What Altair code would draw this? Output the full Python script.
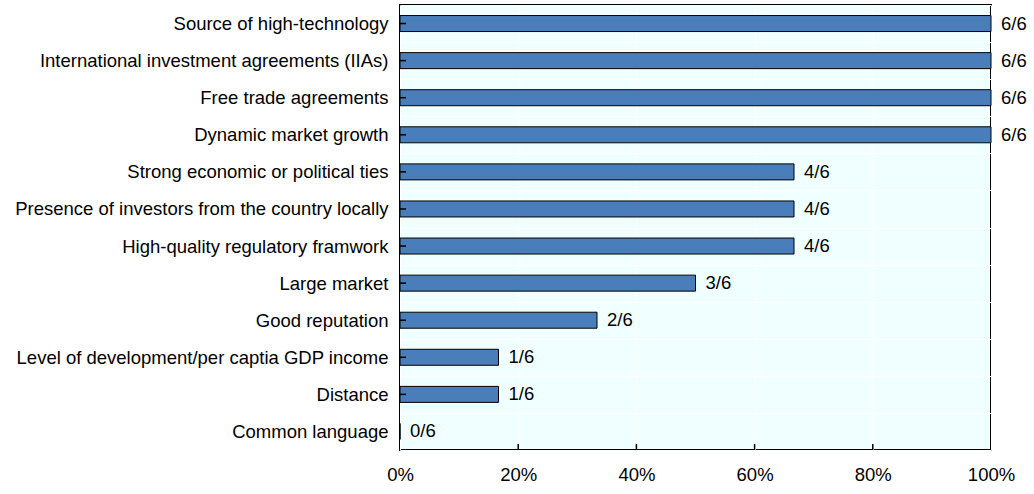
import altair as alt
import pandas as pd

categories = [
    "Source of high-technology",
    "International investment agreements (IIAs)",
    "Free trade agreements",
    "Dynamic market growth",
    "Strong economic or political ties",
    "Presence of investors from the country locally",
    "High-quality regulatory framwork",
    "Large market",
    "Good reputation",
    "Level of development/per captia GDP income",
    "Distance",
    "Common language",
]
counts = [6, 6, 6, 6, 4, 4, 4, 3, 2, 1, 1, 0]
total = 6
x_ticks = [0.2, 0.4, 0.6, 0.8]

df = pd.DataFrame({
    "category": categories,
    "pct": [c / total for c in counts],
    "label": [f"{c}/{total}" for c in counts],
    "idx": list(range(len(categories))),
})
tick_df = pd.DataFrame({"t": x_ticks})

W, H = 591, 445
step = H / len(categories)
FONT = "Liberation Sans"
FS = 18.5

yenc = alt.Y("category:N", sort=categories, title=None,
             scale=alt.Scale(paddingInner=0, paddingOuter=0),
             axis=alt.Axis(grid=True, gridColor="white", gridWidth=1, tickBand="extent",
                           ticks=False, domain=False, labelFont=FONT, labelFontSize=FS,
                           labelColor="#000000", labelPadding=12, labelLimit=600))
xenc = alt.X("pct:Q", title=None,
             scale=alt.Scale(domain=[0, 1], nice=False),
             axis=alt.Axis(values=[0, 0.2, 0.4, 0.6, 0.8, 1.0], format="%", grid=True,
                           gridColor="white", gridWidth=1, ticks=False, domain=False,
                           labelFlush=False, labelFont=FONT, labelFontSize=FS,
                           labelColor="#000000", labelPadding=15))

bars = alt.Chart(df).mark_bar(size=16, color="#4a7ebb", stroke="#000000", strokeWidth=1).encode(
    x=xenc, y=yenc)

texts = alt.Chart(df).mark_text(align="left", baseline="middle", dx=10, font=FONT,
                                fontSize=FS, color="#000000").encode(
    x="pct:Q", y=alt.Y("category:N", sort=categories), text="label:N")

yticks = alt.Chart(df).transform_filter("datum.idx > 0").mark_rule(
    color="#000000", strokeWidth=1.5).encode(
    y=alt.Y("category:N", sort=categories),
    x=alt.value(0), x2=alt.value(6), yOffset=alt.value(-step / 2))

xticks = alt.Chart(tick_df).mark_rule(color="#000000", strokeWidth=1.5).encode(
    x="t:Q", y=alt.value(H - 6), y2=alt.value(H))

chart = alt.layer(bars, texts, yticks, xticks).properties(
    width=W, height=H,
    autosize=alt.AutoSizeParams(type="none"),
    padding={"left": 400, "top": 5, "right": 43, "bottom": 44},
).configure_view(fill="#f0ffff", stroke="#000000", strokeWidth=2)

chart.save("out.html", embed_options={"renderer": "svg", "actions": False})
